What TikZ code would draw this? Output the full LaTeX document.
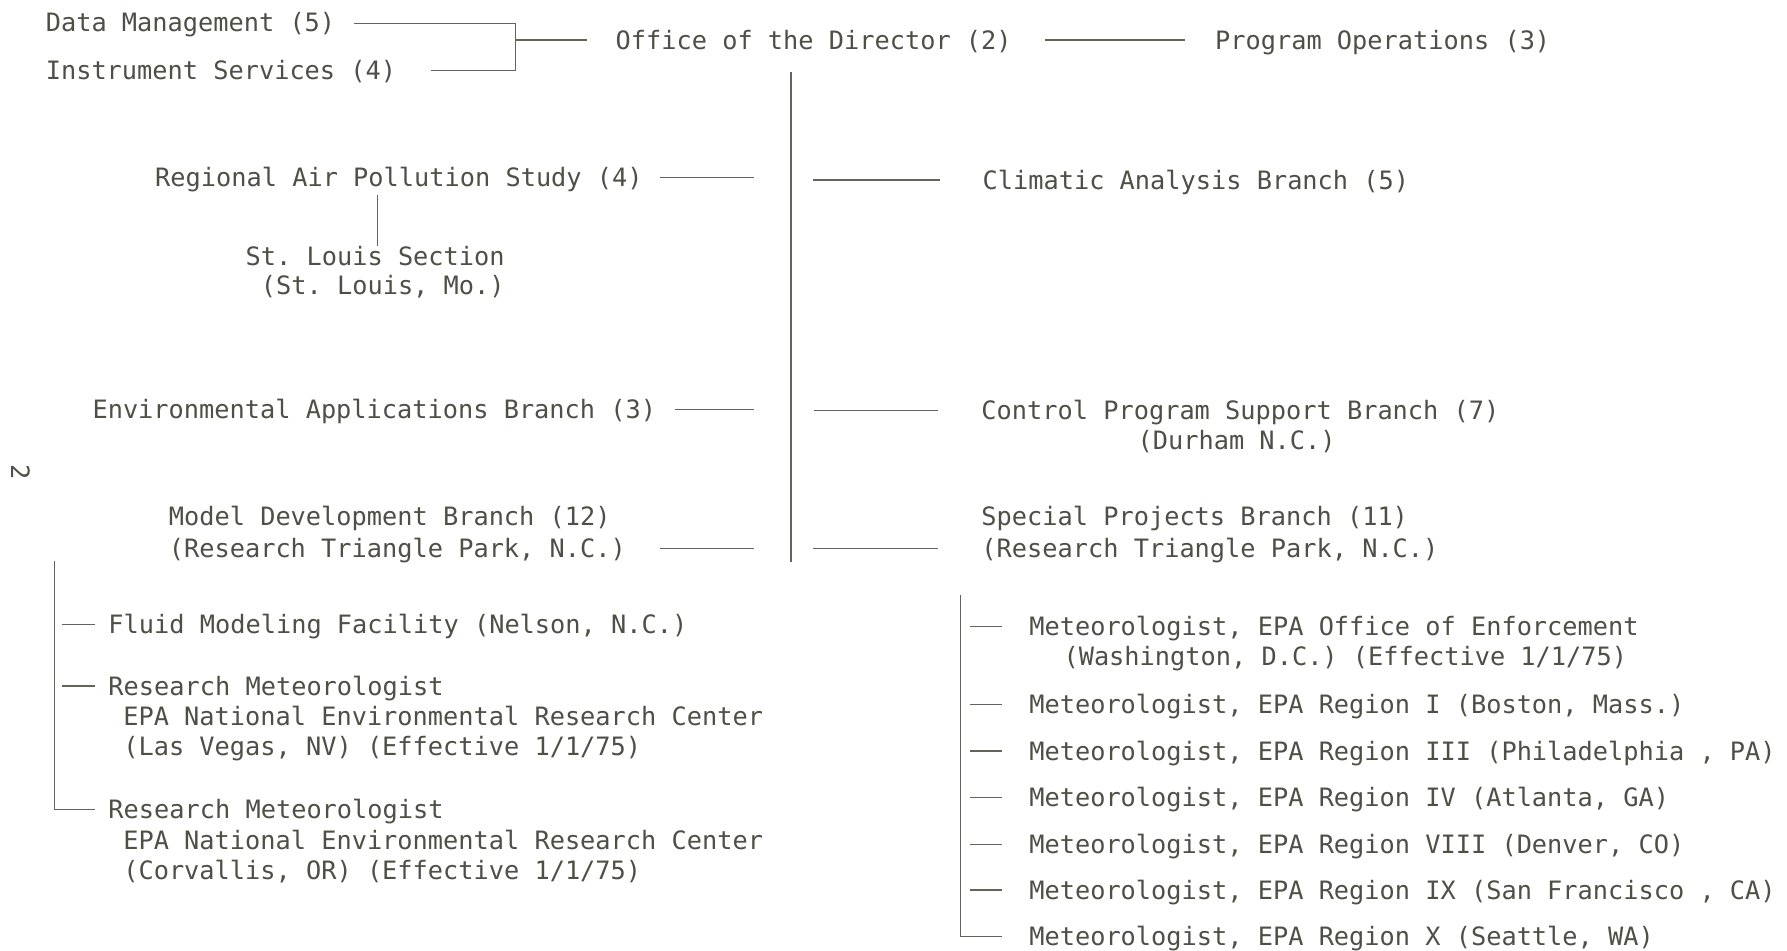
\documentclass[tikz,border=0pt]{standalone}
\usepackage{fontspec}
\setmonofont{DejaVu Sans Mono}
\definecolor{ink}{RGB}{78,80,70}
\definecolor{rulec}{RGB}{100,100,92}
\begin{document}
\begin{tikzpicture}[x=1pt,y=-1pt,
  lbl/.style={inner sep=0pt, anchor=base west, text=ink, font=\ttfamily\fontsize{22.2}{27}\selectfont},
  lble/.style={lbl, anchor=base east},
  conn/.style={draw=rulec, line width=1.1pt}]
\fill[white] (0,0) rectangle (1568,834.4);
\useasboundingbox (0,0) rectangle (1568,834.4);

% top row
\node[lbl] (dm) at (40,28) {Data Management (5)};
\node[lbl] (is) at (40,70) {Instrument Services (4)};
\node[lbl] (od) at (540,43) {Office of the Director (2)};
\node[lbl] (po) at (1066,43) {Program Operations (3)};

% left branches
\node[lbl] (raps) at (136,164) {Regional Air Pollution Study (4)};
\node[lble] (stla) at (443,233) {St. Louis Section};
\node[lble] (stlb) at (443,258) {(St. Louis, Mo.)};
\node[lbl] (eab) at (81,367) {Environmental Applications Branch (3)};
\node[lbl] (mdba) at (148,461) {Model Development Branch (12)};
\node[lbl] (mdbb) at (148,489) {(Research Triangle Park, N.C.)};

% right branches
\node[lbl] (cab) at (862,166) {Climatic Analysis Branch (5)};
\node[lbl] (cpsa) at (861,368) {Control Program Support Branch (7)};
\node[lbl] (cpsb) at (998,394) {(Durham N.C.)};
\node[lbl] (spba) at (861,461) {Special Projects Branch (11)};
\node[lbl] (spbb) at (861,489) {(Research Triangle Park, N.C.)};

% page number
\node[lbl, anchor=center, rotate=-90] (pg) at (18,414) {2};

% model development sub-units
\node[lbl] (fmf) at (95,556) {Fluid Modeling Facility (Nelson, N.C.)};
\node[lbl] (rmaa) at (95,610) {Research Meteorologist};
\node[lbl] (rmab) at (108,637) {EPA National Environmental Research Center};
\node[lbl] (rmac) at (108,663) {(Las Vegas, NV) (Effective 1/1/75)};
\node[lbl] (rmba) at (95,718) {Research Meteorologist};
\node[lbl] (rmbb) at (108,745) {EPA National Environmental Research Center};
\node[lbl] (rmbc) at (108,772) {(Corvallis, OR) (Effective 1/1/75)};

% special projects sub-units
\node[lbl] (mea) at (903,558) {Meteorologist, EPA Office of Enforcement};
\node[lbl] (meb) at (933,584) {(Washington, D.C.) (Effective 1/1/75)};
\node[lbl] (mr1) at (903,626) {Meteorologist, EPA Region I (Boston, Mass.)};
\node[lbl] (mr3) at (903,667) {Meteorologist, EPA Region III (Philadelphia , PA)};
\node[lbl] (mr4) at (903,708) {Meteorologist, EPA Region IV (Atlanta, GA)};
\node[lbl] (mr8) at (903,749) {Meteorologist, EPA Region VIII (Denver, CO)};
\node[lbl] (mr9) at (903,789) {Meteorologist, EPA Region IX (San Francisco , CA)};
\node[lbl] (mr10) at (903,830) {Meteorologist, EPA Region X (Seattle, WA)};

% coordinates for connector ends
\coordinate (brT) at (452,20.5);
\coordinate (brB) at (452,62);
\coordinate (brM) at (452,35);
\coordinate (vT) at (694,63);
\coordinate (vB) at (694,493);
\coordinate (lvT) at (48,492);
\coordinate (lvB) at (48,710);
\coordinate (rvT) at (843,522);
\coordinate (rvB) at (843,822);

% top connectors
\draw[conn] (311,20.5) -- (brT) -- (brB);
\draw[conn] (378,62) -- (brB);
\draw[conn] (brM) -- (515,35);
\draw[conn] (917,35) -- (1040,35);
\draw[conn] (vT) -- (vB);

% left stubs
\draw[conn] (579,156) -- (662,156);
\draw[conn] (592,359) -- (662,359);
\draw[conn] (579,481) -- (662,481);
% right stubs
\draw[conn] (713,158) -- (825,158);
\draw[conn] (714,360) -- (823,360);
\draw[conn] (713,481) -- (823,481);

% St. Louis
\draw[conn] (331,171) -- (331,216);

% left bottom bracket
\draw[conn] (lvT) -- (lvB) -- (83,710);
\draw[conn] (54,548) -- (83,548);
\draw[conn] (54,602) -- (83,602);

% right bottom bracket
\draw[conn] (rvT) -- (rvB) -- (879,822);
\foreach \yy in {550,618,659,700,741,781}
  \draw[conn] (851,\yy) -- (879,\yy);
\end{tikzpicture}
\end{document}
